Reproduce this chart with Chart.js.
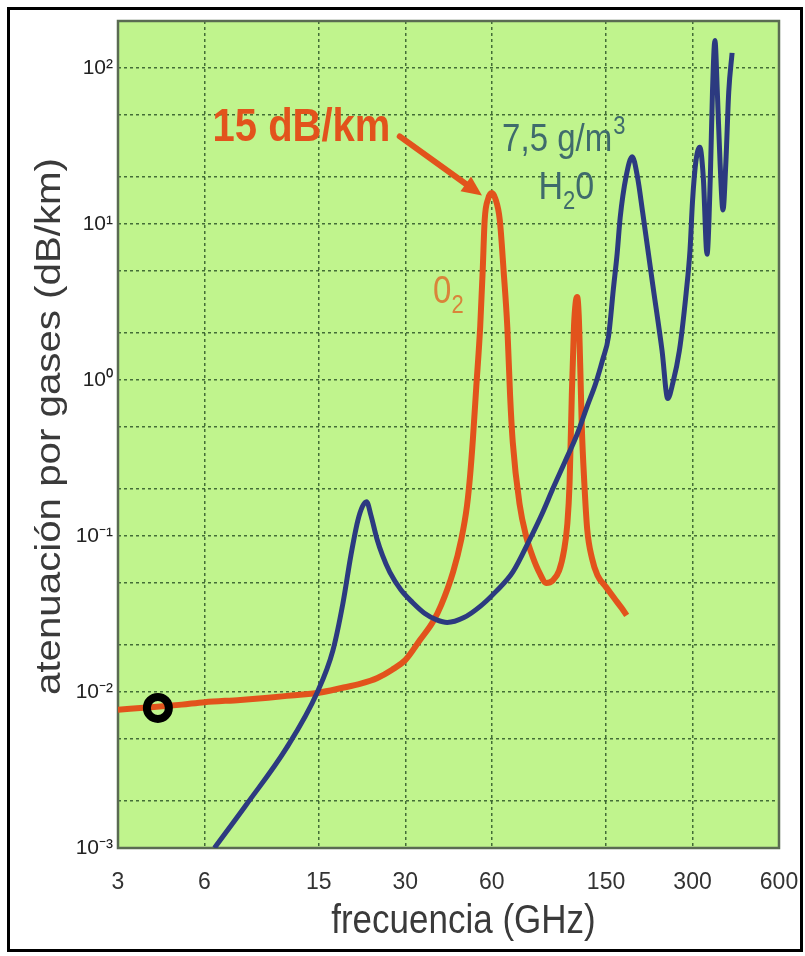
<!DOCTYPE html>
<html>
<head>
<meta charset="utf-8">
<title>Atenuación por gases</title>
<script src="https://cdn.jsdelivr.net/npm/chart.js@4.4.1/dist/chart.umd.min.js"></script>
<style>
  html, body { margin: 0; padding: 0; background: #fff; }
  #wrap { position: relative; width: 805px; height: 956px; }
  #frame { position: absolute; left: 7px; top: 7px; width: 790px; height: 939px; border: 3px solid #000; pointer-events: none; }
</style>
</head>
<body>
<div id="wrap">
  <canvas id="chart" width="805" height="956"></canvas>
  <div id="frame"></div>
</div>
<script>
// axis ticks
const freqTicks = [3, 6, 15, 30, 60, 150, 300, 600]; // GHz
const attenGrid = [0.001, 0.002, 0.005, 0.01, 0.02, 0.05, 0.1, 0.2, 0.5, 1, 2, 5, 10, 20, 50, 100, 200];
const decadeValues = [0.001, 0.01, 0.1, 1, 10, 100];
const decadeLabels = ['10⁻³', '10⁻²', '10⁻¹', '10⁰', '10¹', '10²'];

// oxygen (O2) curve
const o2Freq = [3, 4, 5, 6, 8, 10, 12, 15, 18, 21, 24, 27, 30, 33.8, 37.5, 40, 44, 47, 49.2, 50.5, 51.6, 53, 54.7, 55.8, 56.7, 58.3, 60, 61.8, 64, 66, 68, 69.5, 71, 75, 79, 83, 88, 93, 98, 103, 107, 110, 112, 114, 116, 117.5, 119, 120.5, 122, 123.5, 126, 129, 134, 140, 150, 160, 170, 177];
const o2Atten = [0.0077, 0.008, 0.0083, 0.0086, 0.0089, 0.0092, 0.0095, 0.0099, 0.0106, 0.0113, 0.0123, 0.0139, 0.016, 0.0216, 0.0283, 0.036, 0.0586, 0.095, 0.156, 0.25, 0.42, 0.9, 2.2, 5, 10.6, 14.5, 15.8, 14.5, 10.6, 5, 2.16, 0.8, 0.4, 0.16, 0.1, 0.075, 0.058, 0.05, 0.052, 0.06, 0.08, 0.12, 0.22, 0.8, 2.2, 3.1, 3.4, 2.6, 1.2, 0.5, 0.22, 0.11, 0.072, 0.056, 0.047, 0.04, 0.0345, 0.031];

// water vapour (H2O, 7.5 g/m3) curve
const h2oFreq = [6.5, 8.4, 11.6, 14.8, 16.8, 18.2, 19.4, 20.5, 21.3, 22, 22.8, 23.9, 25, 26.5, 29, 31.8, 35, 38.6, 42, 48, 54.7, 62, 71, 81.6, 90, 97.8, 108, 119, 129, 138, 146, 153, 159, 164, 168, 176, 185, 193, 201, 218, 235, 246, 256, 270, 285, 294, 300, 308, 318, 327, 337, 346, 352, 359, 366, 374, 383, 392, 401, 412];
const h2oAtten = [0.001, 0.0019, 0.0044, 0.0099, 0.0185, 0.037, 0.075, 0.125, 0.155, 0.166, 0.135, 0.096, 0.075, 0.0586, 0.045, 0.0375, 0.032, 0.029, 0.0279, 0.03, 0.0354, 0.044, 0.0586, 0.096, 0.14, 0.2, 0.3, 0.45, 0.68, 0.95, 1.35, 1.9, 3.8, 6.5, 11, 20, 27, 20, 12, 4.1, 1.54, 0.76, 0.95, 1.54, 3.6, 6.8, 14, 25, 31, 20, 6.4, 20, 70, 150, 70, 25, 12.3, 25, 70, 125];

// circled point
const markFreq = [4.13];
const markAtten = [0.0079];

const toPoints = (xs, ys) => xs.map((x, i) => ({ x: x, y: ys[i] }));

const FONT = '"Liberation Sans", Arial, sans-serif';
const STRETCH = 1.15; // the original picture's text is taller than it is wide
const GREEN = '#c0f48d';
const GRID = 'rgba(45, 85, 40, 0.85)';
const RED = '#e2531c';
const NAVY = '#2c3a80';
const TEAL = '#3f6b6c';

// text drawn with the vertical stretch of the original
function tallText(ctx, str, x, y, font) {
    ctx.save();
    ctx.translate(x, y);
    ctx.scale(1, STRETCH);
    ctx.font = font;
    ctx.fillText(str, 0, 0);
    ctx.restore();
    ctx.font = font;
    return ctx.measureText(str).width;
}

// green plot area and its frame
const plotArea = {
    id: 'plotArea',
    beforeDraw(chart) {
        const { ctx, chartArea: a } = chart;
        ctx.save();
        ctx.fillStyle = GREEN;
        ctx.fillRect(a.left, a.top, a.right - a.left, a.bottom - a.top);
        ctx.restore();
    },
    beforeDatasetsDraw(chart) {
        const { ctx, chartArea: a } = chart;
        ctx.save();
        ctx.strokeStyle = '#5a6b52';
        ctx.lineWidth = 2.5;
        ctx.strokeRect(a.left, a.top, a.right - a.left, a.bottom - a.top);
        ctx.restore();
    }
};

// axis titles
const axisTitles = {
    id: 'axisTitles',
    afterDraw(chart) {
        const { ctx, chartArea: a } = chart;
        ctx.save();
        ctx.fillStyle = '#3a3a3a';
        ctx.textAlign = 'center';
        ctx.textBaseline = 'alphabetic';
        tallText(ctx, 'frecuencia (GHz)', (a.left + a.right) / 2 + 15, 933, '35px ' + FONT);

        ctx.translate(50, (a.top + a.bottom) / 2 - 8);
        ctx.rotate(-Math.PI / 2);
        ctx.scale(STRETCH, 1);
        ctx.textBaseline = 'middle';
        ctx.font = '35px ' + FONT;
        ctx.fillText('atenuación por gases (dB/km)', 0, 0);
        ctx.restore();
    }
};

// texts and the arrow inside the plot, anchored in data units
const notes = {
    id: 'notes',
    afterDatasetsDraw(chart) {
        const { ctx, scales: { x, y } } = chart;
        const px = f => x.getPixelForValue(f);
        const py = v => y.getPixelForValue(v);
        ctx.save();

        // arrow towards the 60 GHz peak
        const x0 = px(28.7), y0 = py(36.4), x1 = px(55.5), y1 = py(15.2);
        const ang = Math.atan2(y1 - y0, x1 - x0);
        const head = 20;
        ctx.strokeStyle = RED;
        ctx.fillStyle = RED;
        ctx.lineWidth = 6;
        ctx.lineCap = 'round';
        ctx.beginPath();
        ctx.moveTo(x0, y0);
        ctx.lineTo(x1 - head * 0.8 * Math.cos(ang), y1 - head * 0.8 * Math.sin(ang));
        ctx.stroke();
        ctx.beginPath();
        ctx.moveTo(x1, y1);
        ctx.lineTo(x1 - head * Math.cos(ang) + 9 * Math.sin(ang), y1 - head * Math.sin(ang) - 9 * Math.cos(ang));
        ctx.lineTo(x1 - head * Math.cos(ang) - 9 * Math.sin(ang), y1 - head * Math.sin(ang) + 9 * Math.cos(ang));
        ctx.closePath();
        ctx.fill();

        ctx.textBaseline = 'alphabetic';
        ctx.textAlign = 'left';

        tallText(ctx, '15 dB/km', px(6.4), py(33.8), 'bold 40px ' + FONT);

        // 7,5 g/m3 and H2O
        ctx.fillStyle = TEAL;
        let tx = px(65.2), ty = py(29.2);
        tx += tallText(ctx, '7,5 g/m', tx, ty, '33px ' + FONT);
        tallText(ctx, '3', tx + 1, ty - 17, '22px ' + FONT);

        tx = px(87.3); ty = py(14.5);
        tx += tallText(ctx, 'H', tx, ty, '34px ' + FONT);
        tx += tallText(ctx, '2', tx, ty + 10, '22px ' + FONT);
        tallText(ctx, '0', tx, ty, '34px ' + FONT);

        // 02 label
        ctx.fillStyle = '#d9843a';
        tx = px(37.5); ty = py(3.1);
        tx += tallText(ctx, '0', tx, ty, '33px ' + FONT);
        tallText(ctx, '2', tx, ty + 10, '22px ' + FONT);

        ctx.restore();
    }
};

const ctx = document.getElementById('chart').getContext('2d');
new Chart(ctx, {
    type: 'line',
    data: {
        datasets: [
            {
                label: 'punto',
                data: toPoints(markFreq, markAtten),
                showLine: false,
                pointStyle: 'circle',
                pointRadius: 11,
                pointBorderWidth: 8,
                pointBorderColor: '#000',
                pointBackgroundColor: 'rgba(0,0,0,0)'
            },
            {
                label: 'H2O',
                data: toPoints(h2oFreq, h2oAtten),
                borderColor: NAVY,
                borderWidth: 5,
                pointRadius: 0,
                cubicInterpolationMode: 'monotone'
            },
            {
                label: 'O2',
                data: toPoints(o2Freq, o2Atten),
                borderColor: RED,
                borderWidth: 6,
                pointRadius: 0,
                cubicInterpolationMode: 'monotone'
            }
        ]
    },
    options: {
        responsive: false,
        animation: false,
        layout: { padding: { left: 0, right: 26, top: 21, bottom: 0 } },
        plugins: { legend: { display: false }, tooltip: { enabled: false } },
        scales: {
            x: {
                type: 'logarithmic',
                min: 3,
                max: 600,
                afterBuildTicks: s => { s.ticks = freqTicks.map(v => ({ value: v })); },
                afterFit: s => { s.height = 108; },
                ticks: {
                    callback: v => String(v),
                    color: '#333',
                    font: { family: FONT, size: 23 },
                    padding: 0,
                    maxRotation: 0,
                    autoSkip: false
                },
                // invisible tick marks push the labels down without widening the side margins
                grid: { color: GRID, lineWidth: 1.5, drawTicks: true, tickLength: 21, tickColor: 'rgba(0,0,0,0)' },
                border: { display: false, dash: [3, 3] }
            },
            y: {
                type: 'logarithmic',
                min: 0.001,
                max: 200,
                afterBuildTicks: s => { s.ticks = attenGrid.map(v => ({ value: v })); },
                afterFit: s => { s.width = 118; },
                ticks: {
                    callback: v => {
                        const i = decadeValues.findIndex(d => Math.abs(d - v) / d < 1e-6);
                        return i >= 0 ? decadeLabels[i] : '';
                    },
                    color: '#222',
                    font: { family: FONT, size: 21 },
                    padding: 5,
                    autoSkip: false
                },
                grid: { color: GRID, lineWidth: 1.5, drawTicks: false },
                border: { display: false, dash: [3, 3] }
            }
        }
    },
    plugins: [plotArea, axisTitles, notes]
});
</script>
</body>
</html>
